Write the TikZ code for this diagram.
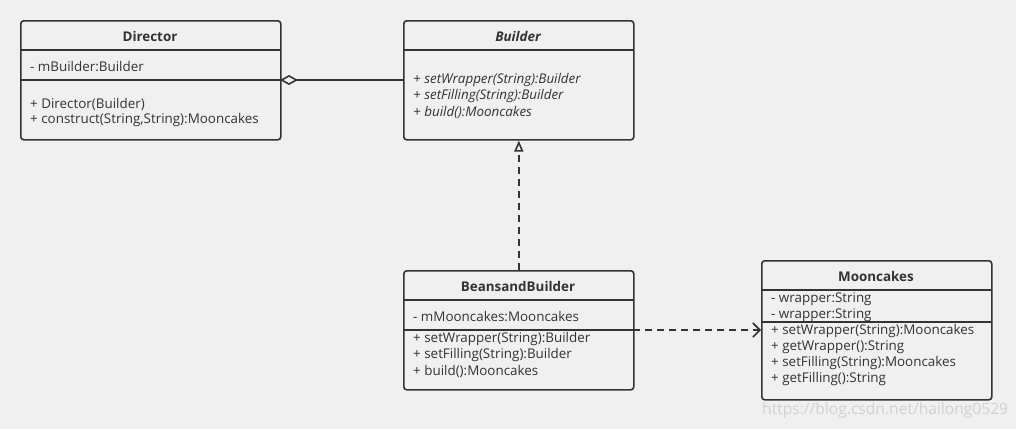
\documentclass[tikz,border=0pt]{standalone}
\usepackage{fontspec}
\setmainfont{Open Sans}
\usetikzlibrary{arrows.meta,positioning}
\definecolor{bgc}{HTML}{F0F0F0}
\definecolor{ink}{HTML}{333333}
\tikzset{
	classbox/.style={draw=ink,line width=1.6pt,rounded corners=3pt,anchor=north west,inner sep=0pt},
	member/.style={anchor=west,inner sep=0pt,yshift=-1.5pt,text=ink,font=\fontsize{13.4}{15}\selectfont},
	classname/.style={inner sep=0pt,yshift=-1pt,text=ink,font=\fontsize{13.4}{15}\selectfont\bfseries},
	divider/.style={draw=ink,line width=1.6pt},
	link/.style={draw=ink,line width=1.6pt},
	dashlink/.style={link,dash pattern=on 7pt off 5pt}
}
\begin{document}
\begin{tikzpicture}[x=1pt,y=-1pt]
			\fill[bgc] (0,0) rectangle (1016,429);
			\useasboundingbox (0,0) rectangle (1016,429);
			% Director
			\node[classbox,minimum width=260pt,minimum height=119pt] (dir) at (20,20) {};
			\node[classname] (dirT) at (150,35) {Director};
			\draw[divider] (20,50) -- (280,50);
			\draw[divider] (20,80) -- (280,80);
			\node[member] (dirA) at (30,65) {- mBuilder:Builder};
			\node[member] (dirM1) at (30,103) {+ Director(Builder)};
			\node[member] (dirM2) at (30,119) {+ construct(String,String):Mooncakes};
			% Builder
			\node[classbox,minimum width=230pt,minimum height=119pt] (bld) at (403,20) {};
			\node[classname,font=\fontsize{13.4}{15}\selectfont\bfseries\itshape] (bldT) at (518,35) {Builder};
			\draw[divider] (403,50) -- (633,50);
			\node[member,font=\fontsize{13.4}{15}\selectfont\itshape] (bldM1) at (413,79) {+ setWrapper(String):Builder};
			\node[member,font=\fontsize{13.4}{15}\selectfont\itshape] (bldM2) at (413,95) {+ setFilling(String):Builder};
			\node[member,font=\fontsize{13.4}{15}\selectfont\itshape] (bldM3) at (413,111) {+ build():Mooncakes};
			% BeansandBuilder
			\node[classbox,minimum width=230pt,minimum height=119pt] (bean) at (403,270) {};
			\node[classname] (beanT) at (518,285) {BeansandBuilder};
			\draw[divider] (403,300) -- (633,300);
			\draw[divider] (403,330) -- (633,330);
			\node[member] (beanA) at (413,315) {- mMooncakes:Mooncakes};
			\node[member] (beanM1) at (413,338) {+ setWrapper(String):Builder};
			\node[member] (beanM2) at (413,354) {+ setFilling(String):Builder};
			\node[member] (beanM3) at (413,370) {+ build():Mooncakes};
			% Mooncakes
			\node[classbox,minimum width=230pt,minimum height=139pt] (moon) at (761,260) {};
			\node[classname] (moonT) at (876,275) {Mooncakes};
			\draw[divider] (761,290) -- (991,290);
			\draw[divider] (761,322) -- (991,322);
			\node[member] (moonA1) at (771,298) {- wrapper:String};
			\node[member] (moonA2) at (771,314) {- wrapper:String};
			\node[member] (moonM1) at (771,330) {+ setWrapper(String):Mooncakes};
			\node[member] (moonM2) at (771,346) {+ getWrapper():String};
			\node[member] (moonM3) at (771,362) {+ setFilling(String):Mooncakes};
			\node[member] (moonM4) at (771,378) {+ getFilling():String};
			% relations
			\coordinate (aggA) at (280,80);
			\coordinate (aggB) at (403,80);
			\draw[link,{Diamond[open,length=18pt,width=10pt]}-] (aggA) -- (aggB);
			\draw[dashlink,-{Triangle[open,length=11pt,width=9pt]}] (bean.north) -- (bld.south);
			\coordinate (depA) at (633,330);
			\coordinate (depB) at (761,330);
			\draw[dashlink,-{Straight Barb[length=7pt,width=14pt]}] (depA) -- (depB);
			\node[anchor=west,inner sep=0pt,text=white!82!black,font=\fontsize{15.6}{17}\selectfont] (mark) at (762,410) {https://blog.csdn.net/hailong0529};
		\end{tikzpicture}
\end{document}
